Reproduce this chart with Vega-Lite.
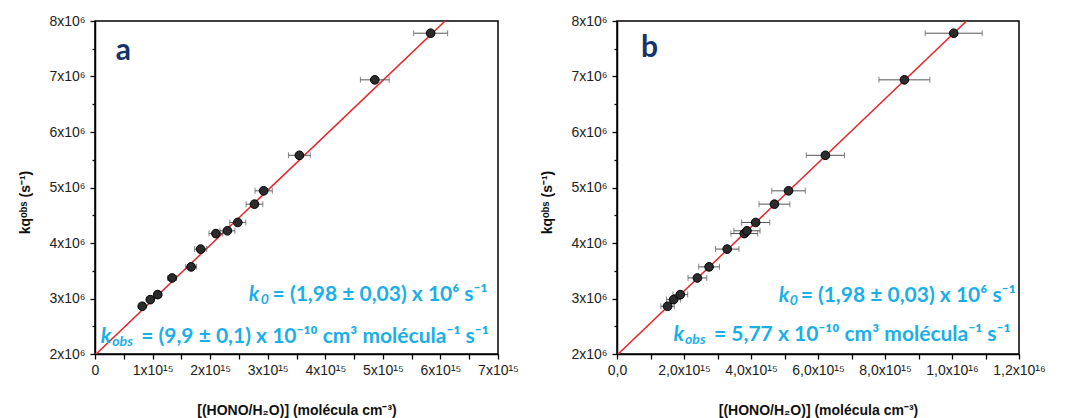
{
  "$schema": "https://vega.github.io/schema/vega-lite/v6.json",
  "padding": {"left": 18, "top": 13, "right": 5, "bottom": 3},
  "spacing": 119,
  "bounds": "flush",
  "config": {
    "view": {"stroke": "#000", "strokeWidth": 1.5},
    "axis": {
      "grid": false,
      "domainColor": "#000",
      "domainWidth": 1.5,
      "tickColor": "#000",
      "tickWidth": 1.3,
      "labelFont": "Liberation Sans",
      "labelFontSize": 14,
      "labelColor": "#222",
      "labelOverlap": false,
      "labelFlush": false,
      "titleFont": "Liberation Sans",
      "titleFontSize": 14,
      "titleFontWeight": "bold",
      "titleColor": "#111"
    }
  },
  "datasets": {
    "pointsA": [
      {"x": 0.82e15, "y": 2.86e6, "err": 0.047e15},
      {"x": 0.96e15, "y": 2.98e6, "err": 0.055e15},
      {"x": 1.09e15, "y": 3.07e6, "err": 0.062e15},
      {"x": 1.34e15, "y": 3.37e6, "err": 0.077e15},
      {"x": 1.67e15, "y": 3.57e6, "err": 0.095e15},
      {"x": 1.835e15, "y": 3.89e6, "err": 0.105e15},
      {"x": 2.10e15, "y": 4.17e6, "err": 0.12e15},
      {"x": 2.30e15, "y": 4.22e6, "err": 0.13e15},
      {"x": 2.48e15, "y": 4.37e6, "err": 0.14e15},
      {"x": 2.77e15, "y": 4.70e6, "err": 0.145e15},
      {"x": 2.93e15, "y": 4.94e6, "err": 0.15e15},
      {"x": 3.55e15, "y": 5.58e6, "err": 0.19e15},
      {"x": 4.86e15, "y": 6.94e6, "err": 0.25e15},
      {"x": 5.83e15, "y": 7.78e6, "err": 0.295e15}
    ],
    "pointsB": [
      {"x": 1.51e15, "y": 2.86e6, "err": 0.20e15},
      {"x": 1.69e15, "y": 2.98e6, "err": 0.21e15},
      {"x": 1.89e15, "y": 3.07e6, "err": 0.22e15},
      {"x": 2.40e15, "y": 3.37e6, "err": 0.28e15},
      {"x": 2.75e15, "y": 3.57e6, "err": 0.31e15},
      {"x": 3.29e15, "y": 3.89e6, "err": 0.35e15},
      {"x": 3.80e15, "y": 4.17e6, "err": 0.40e15},
      {"x": 3.88e15, "y": 4.22e6, "err": 0.39e15},
      {"x": 4.14e15, "y": 4.37e6, "err": 0.42e15},
      {"x": 4.70e15, "y": 4.70e6, "err": 0.46e15},
      {"x": 5.12e15, "y": 4.94e6, "err": 0.50e15},
      {"x": 6.22e15, "y": 5.58e6, "err": 0.57e15},
      {"x": 8.58e15, "y": 6.94e6, "err": 0.76e15},
      {"x": 10.05e15, "y": 7.78e6, "err": 0.85e15}
    ],
    "fitA": [
      {"x": 0, "y": 1.98e6},
      {"x": 7e15, "y": 8.91e6}
    ],
    "fitB": [
      {"x": 0, "y": 1.98e6},
      {"x": 1.2e16, "y": 8.904e6}
    ],
    "notesA": [
      {"part": "letter", "x": 0.36e15, "y": 7.3e6, "text": "a"},
      {"part": "italic", "x": 2.67e15, "y": 2.958e6, "text": "k"},
      {"part": "sub", "x": 2.88e15, "y": 2.958e6, "text": "0"},
      {"part": "plain", "x": 6.82e15, "y": 2.958e6, "text": "= (1,98 ± 0,03) x 10⁶ s⁻¹"},
      {"part": "italic", "x": 0.1e15, "y": 2.206e6, "text": "k"},
      {"part": "sub", "x": 0.3e15, "y": 2.206e6, "text": "obs"},
      {"part": "plain", "x": 6.84e15, "y": 2.206e6, "text": "= (9,9 ± 0,1) x 10⁻¹⁰ cm³ molécula⁻¹ s⁻¹"}
    ],
    "notesB": [
      {"part": "letter", "x": 0.72e15, "y": 7.36e6, "text": "b"},
      {"part": "italic", "x": 4.83e15, "y": 2.93e6, "text": "k"},
      {"part": "sub", "x": 5.16e15, "y": 2.93e6, "text": "0"},
      {"part": "plain", "x": 11.9e15, "y": 2.93e6, "text": "= (1,98 ± 0,03) x 10⁶ s⁻¹"},
      {"part": "italic", "x": 1.69e15, "y": 2.236e6, "text": "k"},
      {"part": "sub", "x": 2.03e15, "y": 2.236e6, "text": "obs"},
      {"part": "plain", "x": 11.75e15, "y": 2.236e6, "text": "= 5,77 x 10⁻¹⁰ cm³ molécula⁻¹ s⁻¹"}
    ]
  },
  "hconcat": [
    {
      "width": 403,
      "height": 333,
      "encoding": {
        "x": {
          "field": "x",
          "type": "quantitative",
          "scale": {"domain": [0, 7e15], "nice": false, "zero": false},
          "axis": {
            "title": "[(HONO/H₂O)] (molécula cm⁻³)",
            "values": [0, 0.5e15, 1e15, 1.5e15, 2e15, 2.5e15, 3e15, 3.5e15, 4e15, 4.5e15, 5e15, 5.5e15, 6e15, 6.5e15, 7e15],
            "labelExpr": "datum.value == 0 ? '0' : (datum.value % 1e15 == 0 ? (datum.value / 1e15) + 'x10¹⁵' : '')",
            "tickSize": 5,
            "labelPadding": 4,
            "titlePadding": 26
          }
        },
        "y": {
          "field": "y",
          "type": "quantitative",
          "scale": {"domain": [2e6, 8e6], "nice": false, "zero": false},
          "axis": {
            "title": "kqᵒᵇˢ (s⁻¹)",
            "values": [2e6, 2.5e6, 3e6, 3.5e6, 4e6, 4.5e6, 5e6, 5.5e6, 6e6, 6.5e6, 7e6, 7.5e6, 8e6],
            "labelExpr": "datum.value % 1e6 == 0 ? (datum.value / 1e6) + 'x10⁶' : ''",
            "tickSize": {"condition": {"test": "datum.value % 1e6 != 0", "value": 3}, "value": 5},
            "labelPadding": 5,
            "titlePadding": 16,
            "titleY": 181
          }
        }
      },
      "layer": [
        {
          "data": {"name": "fitA"},
          "mark": {"type": "line", "color": "#e3262a", "strokeWidth": 1.5, "clip": true}
        },
        {
          "data": {"name": "pointsA"},
          "mark": {"type": "errorbar", "color": "#555", "thickness": 1, "ticks": {"size": 6}},
          "encoding": {"xError": {"field": "err"}}
        },
        {
          "data": {"name": "pointsA"},
          "mark": {"type": "point", "shape": "circle", "filled": true, "size": 75, "fill": "#2b2b2b", "stroke": "#000", "strokeWidth": 1, "opacity": 1}
        },
        {
          "data": {"name": "notesA"},
          "transform": [{"filter": "datum.part == 'letter'"}],
          "mark": {"type": "text", "font": "Lato", "fontWeight": "bold", "fontSize": 30, "color": "#17336b", "align": "left", "baseline": "alphabetic"},
          "encoding": {"text": {"field": "text"}}
        },
        {
          "data": {"name": "notesA"},
          "transform": [{"filter": "datum.part == 'italic'"}],
          "mark": {"type": "text", "font": "Lato", "fontWeight": "bold", "fontStyle": "italic", "fontSize": 21, "color": "#1aafe8", "align": "left", "baseline": "alphabetic"},
          "encoding": {"text": {"field": "text"}}
        },
        {
          "data": {"name": "notesA"},
          "transform": [{"filter": "datum.part == 'sub'"}],
          "mark": {"type": "text", "font": "Lato", "fontWeight": "bold", "fontStyle": "italic", "fontSize": 14, "color": "#1aafe8", "align": "left", "baseline": "alphabetic", "dy": 3},
          "encoding": {"text": {"field": "text"}}
        },
        {
          "data": {"name": "notesA"},
          "transform": [{"filter": "datum.part == 'plain'"}],
          "mark": {"type": "text", "font": "Lato", "fontWeight": "bold", "fontSize": 21, "color": "#1aafe8", "align": "right", "baseline": "alphabetic"},
          "encoding": {"text": {"field": "text"}}
        }
      ]
    },
    {
      "width": 402,
      "height": 333,
      "encoding": {
        "x": {
          "field": "x",
          "type": "quantitative",
          "scale": {"domain": [0, 1.2e16], "nice": false, "zero": false},
          "axis": {
            "title": "[(HONO/H₂O)] (molécula cm⁻³)",
            "values": [0, 1e15, 2e15, 3e15, 4e15, 5e15, 6e15, 7e15, 8e15, 9e15, 1e16, 1.1e16, 1.2e16],
            "labelExpr": "datum.value == 0 ? '0,0' : (datum.value % 2e15 != 0 ? '' : (datum.value < 1e16 ? replace(format(datum.value / 1e15, '.1f'), '.', ',') + 'x10¹⁵' : replace(format(datum.value / 1e16, '.1f'), '.', ',') + 'x10¹⁶'))",
            "tickSize": 5,
            "labelPadding": 4,
            "titlePadding": 26
          }
        },
        "y": {
          "field": "y",
          "type": "quantitative",
          "scale": {"domain": [2e6, 8e6], "nice": false, "zero": false},
          "axis": {
            "title": "kqᵒᵇˢ (s⁻¹)",
            "values": [2e6, 2.5e6, 3e6, 3.5e6, 4e6, 4.5e6, 5e6, 5.5e6, 6e6, 6.5e6, 7e6, 7.5e6, 8e6],
            "labelExpr": "datum.value % 1e6 == 0 ? (datum.value / 1e6) + 'x10⁶' : ''",
            "tickSize": {"condition": {"test": "datum.value % 1e6 != 0", "value": 3}, "value": 5},
            "labelPadding": 5,
            "titlePadding": 16,
            "titleY": 181
          }
        }
      },
      "layer": [
        {
          "data": {"name": "fitB"},
          "mark": {"type": "line", "color": "#e3262a", "strokeWidth": 1.5, "clip": true}
        },
        {
          "data": {"name": "pointsB"},
          "mark": {"type": "errorbar", "color": "#555", "thickness": 1, "ticks": {"size": 6}},
          "encoding": {"xError": {"field": "err"}}
        },
        {
          "data": {"name": "pointsB"},
          "mark": {"type": "point", "shape": "circle", "filled": true, "size": 75, "fill": "#2b2b2b", "stroke": "#000", "strokeWidth": 1, "opacity": 1}
        },
        {
          "data": {"name": "notesB"},
          "transform": [{"filter": "datum.part == 'letter'"}],
          "mark": {"type": "text", "font": "Lato", "fontWeight": "bold", "fontSize": 30, "color": "#17336b", "align": "left", "baseline": "alphabetic"},
          "encoding": {"text": {"field": "text"}}
        },
        {
          "data": {"name": "notesB"},
          "transform": [{"filter": "datum.part == 'italic'"}],
          "mark": {"type": "text", "font": "Lato", "fontWeight": "bold", "fontStyle": "italic", "fontSize": 21, "color": "#1aafe8", "align": "left", "baseline": "alphabetic"},
          "encoding": {"text": {"field": "text"}}
        },
        {
          "data": {"name": "notesB"},
          "transform": [{"filter": "datum.part == 'sub'"}],
          "mark": {"type": "text", "font": "Lato", "fontWeight": "bold", "fontStyle": "italic", "fontSize": 14, "color": "#1aafe8", "align": "left", "baseline": "alphabetic", "dy": 3},
          "encoding": {"text": {"field": "text"}}
        },
        {
          "data": {"name": "notesB"},
          "transform": [{"filter": "datum.part == 'plain'"}],
          "mark": {"type": "text", "font": "Lato", "fontWeight": "bold", "fontSize": 21, "color": "#1aafe8", "align": "right", "baseline": "alphabetic"},
          "encoding": {"text": {"field": "text"}}
        }
      ]
    }
  ]
}
